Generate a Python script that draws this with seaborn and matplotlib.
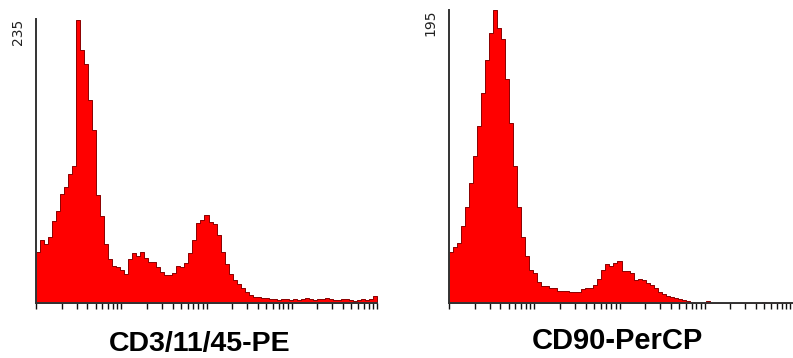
import numpy as np
import pandas as pd
import matplotlib
matplotlib.use("Agg")
import matplotlib.pyplot as plt
from matplotlib.ticker import LogLocator, NullFormatter, FixedLocator
import seaborn as sns

# ---------------- data (event counts per log-spaced channel bin, 85 bins over 4 decades) -------------
cd3_counts = [
    42, 52, 49, 55, 68, 76, 90, 96, 107, 113,
    234, 209, 198, 168, 143, 89, 72, 49, 36, 31,
    30, 27, 24, 36, 41, 39, 42, 37, 34, 34,
    30, 26, 23, 23, 25, 31, 30, 33, 41, 52,
    66, 69, 73, 67, 65, 56, 42, 32, 24, 19,
    16, 12, 9, 7, 5, 4.6, 4.1, 4.1, 3.7,
    3, 2.5, 3, 3.5, 2.5, 3, 2.5, 3, 4, 3,
    2.5, 3, 3.5, 4, 3, 2.5, 2.5, 3, 3.5, 2.5,
    2, 2.5, 3, 2.5, 3.5,
    6,
]
cd90_counts = [
    34, 37, 40, 51, 64, 80, 98, 118, 140, 162,
    180, 195, 183, 176, 149, 120, 91, 64, 44, 31,
    22, 20, 14, 11, 11.5, 10.3, 9.7, 7.7, 7.7, 8.3,
    7.2, 7.2, 7.2, 9, 9.7, 10.3, 11.7, 15.7, 21.7, 25.7,
    24.3, 26.3, 27.7, 21, 21, 19.7, 15, 15.7, 15, 13,
    11.7, 10.3, 7, 6.3, 4.7, 3.9, 3, 2.7, 1.7, 1,
    0.7, 0, 0, 0, 1,
    0, 0, 0, 0, 0, 0, 0, 0, 0, 0,
    0, 0, 0, 0.5, 0, 0, 0, 0, 0, 0,
]
panel_labels = ["CD3/11/45-PE", "CD90-PerCP"]
panel_ymax = [235, 195]
n_decades = 4

# ---------------- figure ----------------
sns.set_style("white")
plt.rcParams["font.family"] = ["DejaVu Sans"]

W, H = 793, 358
fig = plt.figure(figsize=(W / 100, H / 100), dpi=100)

# axes rectangles in pixels: (left, top, right, bottom)
rects = [(36, 19, 377, 303), (449, 10, 793, 303)]
decade_px = 341 / n_decades
label_fs = [20.5, 21]
label_xy = [(0.48, -0.145), (0.49, -0.13)]

for i, (counts, label, ymax) in enumerate(zip([cd3_counts, cd90_counts], panel_labels, panel_ymax)):
    l, t, r, b = rects[i]
    ax = fig.add_axes([l / W, 1 - b / H, (r - l) / W, (b - t) / H])
    nb = len(counts)
    log_edges = np.linspace(0, n_decades, nb + 1)
    centers = 10 ** ((log_edges[:-1] + log_edges[1:]) / 2)
    df = pd.DataFrame({"channel": centers, "count": np.asarray(counts, dtype=float)})
    sns.histplot(data=df, x="channel", weights="count", bins=nb, binrange=(0, n_decades),
                 log_scale=True, element="step", fill=True, color="#ff0000", alpha=1.0,
                 edgecolor="#8a0000", linewidth=0.7, ax=ax)
    ax.set_xlim(1, 10 ** ((r - l) / decade_px))
    ax.set_ylim(0, ymax)

    # x axis: log ticks pointing down, no labels
    ax.xaxis.set_major_locator(LogLocator(base=10, numticks=10))
    ax.xaxis.set_minor_locator(LogLocator(base=10, subs=np.arange(2, 10), numticks=50))
    ax.xaxis.set_major_formatter(NullFormatter())
    ax.xaxis.set_minor_formatter(NullFormatter())
    ax.tick_params(axis="x", which="both", direction="out", length=4, width=1,
                   color="#111111", bottom=True)

    # y axis: only the max count, rotated
    ax.yaxis.set_major_locator(FixedLocator([ymax]))
    ax.set_yticklabels([str(ymax)], rotation=90, va="top", fontsize=10, color="#222222")
    ax.tick_params(axis="y", length=0, pad=8)
    ax.set_ylabel("")

    for s in ["top", "right"]:
        ax.spines[s].set_visible(False)
    for s in ["left", "bottom"]:
        ax.spines[s].set_color("#333333")
        ax.spines[s].set_linewidth(1.4)

    ax.set_xlabel(label, fontsize=label_fs[i], fontweight="bold",
                  family=["Liberation Sans", "DejaVu Sans"], color="black", va="center")
    ax.xaxis.set_label_coords(*label_xy[i])

fig.savefig("out.png", dpi=100)
